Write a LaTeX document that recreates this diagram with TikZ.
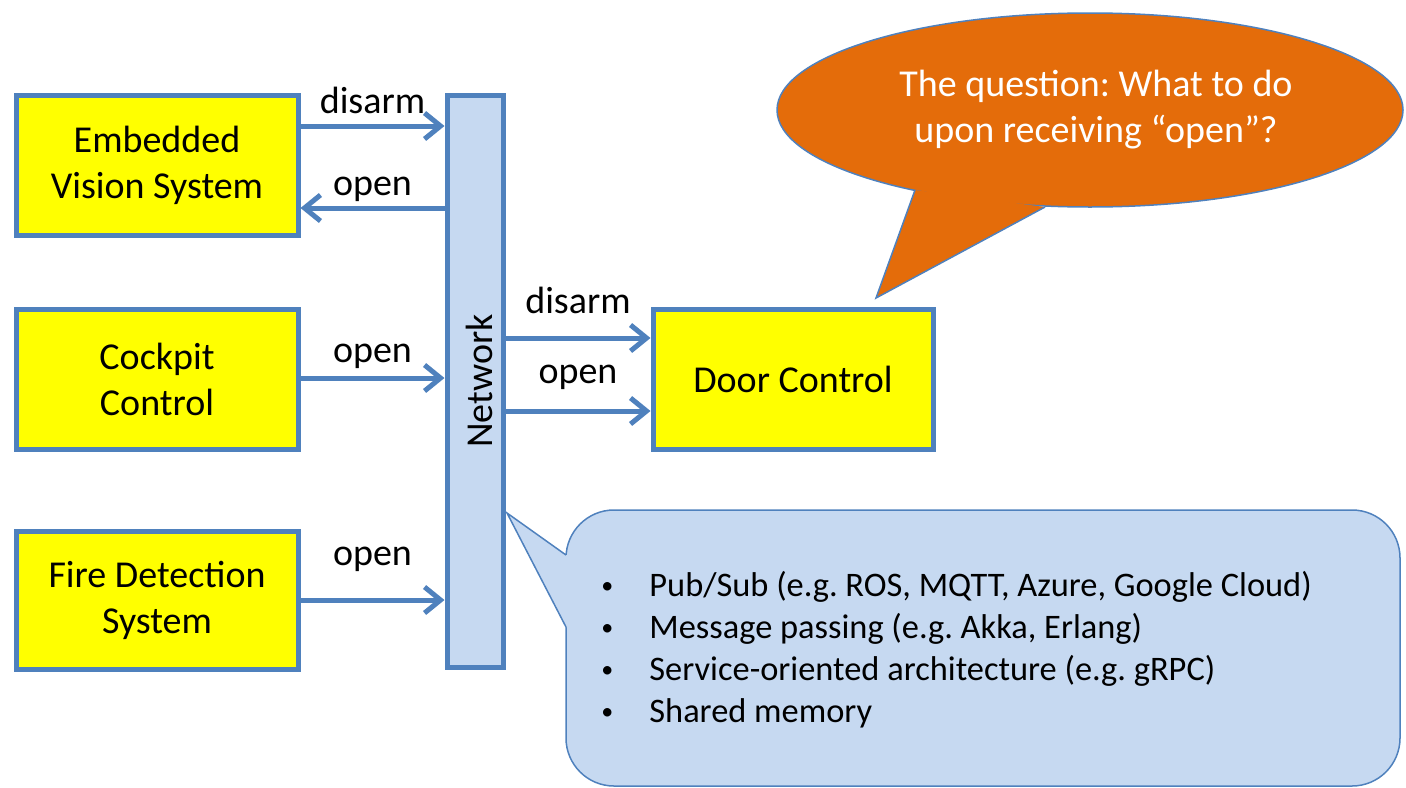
\documentclass[tikz,border=0pt]{standalone}
\usepackage{fontspec}
\setmainfont{Carlito}
\usetikzlibrary{arrows.meta,shadows,shapes.geometric}
\definecolor{bblue}{RGB}{79,129,189}
\definecolor{lblue}{RGB}{198,217,241}
\definecolor{qorange}{RGB}{228,108,10}
\definecolor{pyellow}{RGB}{255,255,0}
\tikzset{
  sysbox/.style={draw=bblue, line width=2.5pt, fill=pyellow, inner sep=0pt, align=center,
    font=\fontsize{19}{23}\selectfont,
    drop shadow={shadow xshift=1pt, shadow yshift=-1.5pt, opacity=0.25}},
  netbar/.style={draw=bblue, line width=2.5pt, fill=lblue, inner sep=0pt,
    drop shadow={shadow xshift=1pt, shadow yshift=-1.5pt, opacity=0.25}},
  arr/.style={draw=bblue, line width=2.5pt, -{Straight Barb[length=8pt,width=13pt]}},
  lbl/.style={font=\fontsize{19}{23}\selectfont, anchor=base, inner sep=0pt, text=black},
  thinline/.style={draw=bblue, line width=0.75pt},
}
\newcommand{\smbul}{{\fontsize{12}{12}\selectfont\raisebox{1.5pt}{•}}}
\begin{document}
\frenchspacing
\begin{tikzpicture}[x=0.5pt,y=-0.5pt]
\useasboundingbox (0,0) rectangle (1406,787);

% boxes
\node[sysbox, minimum width=141pt, minimum height=70pt] (evs) at (157,165) {Embedded\\Vision System};
\node[sysbox, minimum width=141pt, minimum height=70pt] (cock) at (157,379) {Cockpit\\Control};
\node[sysbox, minimum width=141pt, minimum height=69pt] (fire) at (157,600) {Fire Detection\\System};
\node[netbar, minimum width=28pt, minimum height=286pt] (net) at (475,381) {};
\node[rotate=90, font=\fontsize{19}{23}\selectfont, inner sep=0pt] (nettxt) at (479,381) {Network};
\node[sysbox, minimum width=140pt, minimum height=70pt] (door) at (793,379) {Door Control};

% arrows
\draw[arr] (evs.east |- 0,126) -- node[lbl, yshift=6.5pt] {disarm} (net.west |- 0,126);
\draw[arr] (net.west |- 0,208) -- node[lbl, yshift=6.5pt] {open} (evs.east |- 0,208);
\draw[arr] (cock.east |- 0,378) -- node[lbl, yshift=8pt] {open} (net.west |- 0,378);
\draw[arr] (fire.east |- 0,600) -- node[lbl, yshift=17.5pt] {open} (net.west |- 0,600);
\draw[arr] (net.east |- 0,338) -- node[lbl, yshift=12.5pt] {disarm} (door.west |- 0,338);
\draw[arr] (net.east |- 0,411) -- node[lbl, yshift=14pt] {open} (door.west |- 0,411);

% orange question callout
\node[ellipse, thinline, fill=qorange, minimum width=313pt, minimum height=97pt, inner sep=0pt] (q) at (1090,110) {};
\coordinate (qtip) at (876,298);
\coordinate (qa) at (915,190);
\coordinate (qb) at (1045,207);
\fill[qorange] (qtip) -- (qa) -- (qb) -- cycle;
\draw[thinline] (qa) -- (qtip) -- (qb);
\node[align=center, text=white, font=\fontsize{19}{23}\selectfont, inner sep=0pt] (qtext) at (1096,110) {The question: What to do\\upon receiving “open”?};

% blue list callout
\node[thinline, fill=lblue, rounded corners=24pt, minimum width=417pt, minimum height=138pt, inner sep=0pt] (cb) at (983,648) {};
\coordinate (ctip) at (507,513);
\coordinate (ca) at (566,555);
\coordinate (cbb) at (566,627);
\fill[lblue] (ctip) -- (ca) -- (568,555) -- (568,627) -- (cbb) -- cycle;
\draw[thinline] (ca) -- (ctip) -- (cbb);
\node[anchor=west, inner sep=0pt, font=\fontsize{17.2}{21}\selectfont] (list) at (601,651)
  {\begin{tabular}{@{}p{24pt}@{}l@{}}
  \smbul&Pub/Sub (e.g. ROS, MQTT, Azure, Google Cloud)\\
  \smbul&Message passing (e.g. Akka, Erlang)\\
  \smbul&Service-oriented architecture (e.g. gRPC)\\
  \smbul&Shared memory
  \end{tabular}};
\end{tikzpicture}
\end{document}
